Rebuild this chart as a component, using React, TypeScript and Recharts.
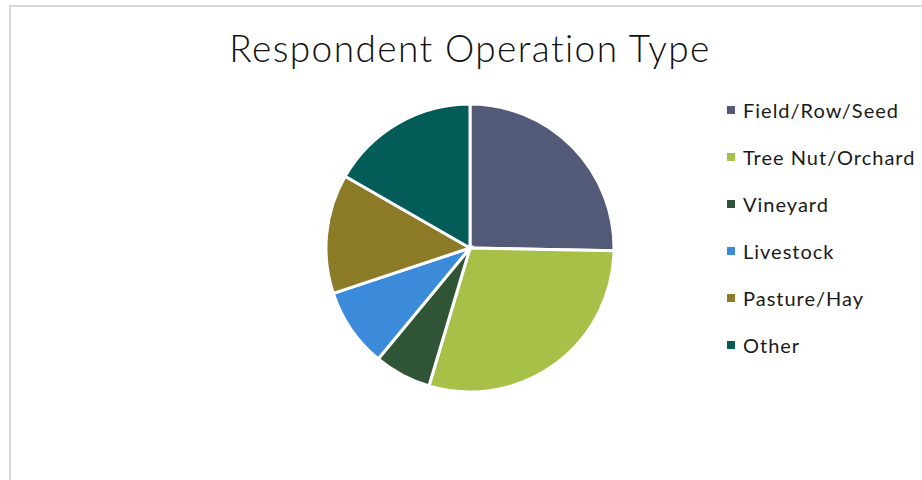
import React from 'react';
import { PieChart, Pie, Cell, Legend } from 'recharts';

const categories = ['Field/Row/Seed', 'Tree Nut/Orchard', 'Vineyard', 'Livestock', 'Pasture/Hay', 'Other'];
const shares = [25.3, 29.3, 6.4, 8.9, 13.4, 16.7];
const colors = ['#535a78', '#a6c048', '#305436', '#3c8bda', '#8b7b27', '#035c57'];

const data = categories.map((name, i) => ({ name, value: shares[i] }));

const FONT = 'Lato, "Noto Sans", sans-serif';

const LegendContent = (props: any) => {
  const payload = [...(props.payload || [])].sort(
    (a: any, b: any) => categories.indexOf(a.value) - categories.indexOf(b.value)
  );
  return (
    <div style={{ fontFamily: FONT }}>
      {payload.map((p: any, i: number) => (
        <div key={i} style={{ display: 'flex', alignItems: 'center', height: 47 }}>
          <span style={{ display: 'inline-block', width: 8, height: 8, background: p.color, marginRight: 8 }} />
          <span style={{ fontSize: 20, letterSpacing: 1, color: '#1a1a1a', whiteSpace: 'nowrap' }}>{p.value}</span>
        </div>
      ))}
    </div>
  );
};

export default function App() {
  return (
    <div style={{ position: 'absolute', left: 0, top: 0, width: 922, height: 480, overflow: 'hidden', background: '#fff' }}>
      <div style={{ position: 'absolute', left: 9, top: 5, width: 960, height: 520, border: '2px solid #d9d9d9', boxSizing: 'border-box' }} />
      <div style={{ position: 'absolute', left: 0, top: 25, width: 940, textAlign: 'center', fontFamily: FONT, fontWeight: 300, fontSize: 37, letterSpacing: 1.4, color: '#111', whiteSpace: 'nowrap' }}>
        Respondent Operation Type
      </div>
      <div style={{ position: 'absolute', left: 0, top: 0 }}>
        <PieChart width={922} height={480} margin={{ top: 0, right: 0, bottom: 0, left: 0 }}>
          <Pie
            data={data}
            dataKey="value"
            nameKey="name"
            cx={470}
            cy={248}
            outerRadius={144}
            startAngle={90}
            endAngle={-270}
            stroke="#ffffff"
            strokeWidth={3}
            isAnimationActive={false}
          >
            {data.map((d, i) => (
              <Cell key={d.name} fill={colors[i]} />
            ))}
          </Pie>
          <Legend
            layout="vertical"
            align="right"
            verticalAlign="top"
            content={<LegendContent />}
            wrapperStyle={{ left: 727, top: 86.5, width: 195 }}
          />
        </PieChart>
      </div>
    </div>
  );
}
